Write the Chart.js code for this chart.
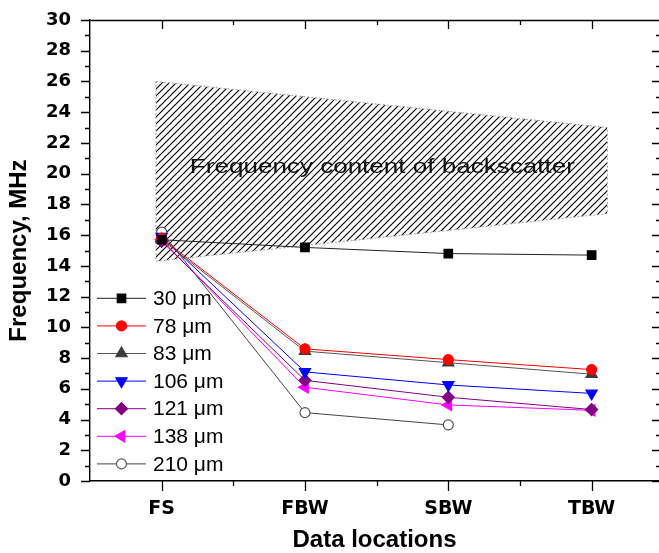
<!DOCTYPE html>
<html>
<head>
<meta charset="utf-8">
<script src="https://cdn.jsdelivr.net/npm/chart.js"></script>
<style>
  html, body { margin: 0; padding: 0; background: #fff; }
  #wrap { width: 659px; height: 553px; position: relative; }
</style>
</head>
<body>
<div id="wrap"><canvas id="chart"></canvas></div>
<script>
// data
var categories = ['FS', 'FBW', 'SBW', 'TBW'];
var sizes = ['30 \u03bcm', '78 \u03bcm', '83 \u03bcm', '106 \u03bcm', '121 \u03bcm', '138 \u03bcm', '210 \u03bcm'];
var f30  = [15.7, 15.2, 14.8, 14.7];
var f78  = [15.8, 8.6, 7.9, 7.25];
var f83  = [15.7, 8.45, 7.7, 6.95];
var f106 = [15.9, 7.1, 6.25, 5.7];
var f121 = [15.6, 6.55, 5.45, 4.65];
var f138 = [15.7, 6.1, 4.95, 4.6];
var f210 = [16.2, 4.45, 3.65, null];
// backscatter band (x in category units)
var bandX = [-0.04, 3.11];
var bandTop = [26.0, 23.0];
var bandBottom = [14.3, 17.4];
var bandLabel = 'Frequency content of backscatter';

function pts(vals) {
  var out = [];
  vals.forEach(function (v, i) { if (v !== null) out.push({ x: i, y: v }); });
  return out;
}
function edge(xs, ys) {
  return xs.map(function (x, i) { return { x: x, y: ys[i] }; });
}

// hatch pattern
function hatch() {
  var p = 7;
  var c = document.createElement('canvas');
  c.width = p; c.height = p;
  var g = c.getContext('2d');
  g.strokeStyle = '#000';
  g.lineWidth = 1.15;
  g.beginPath();
  g.moveTo(0, p); g.lineTo(p, 0);
  g.moveTo(-1, 1); g.lineTo(1, -1);
  g.moveTo(p - 1, p + 1); g.lineTo(p + 1, p - 1);
  g.stroke();
  return g.createPattern(c, 'repeat');
}

var styles = [
  { color: '#000000', line: '#222222', point: 'rect', r: 6, rot: 0, fill: '#000000' },
  { color: '#ff0000', line: '#ff0000', point: 'circle', r: 5, rot: 0, fill: '#ff0000' },
  { color: '#3c3c3c', line: '#555555', point: 'triangle', r: 6.5, rot: 0, fill: '#3c3c3c' },
  { color: '#0000ff', line: '#0000ff', point: 'triangle', r: 6.5, rot: 180, fill: '#0000ff' },
  { color: '#800080', line: '#800080', point: 'rectRot', r: 6, rot: 0, fill: '#800080' },
  { color: '#ff00ff', line: '#ff00ff', point: 'triangle', r: 6.5, rot: -90, fill: '#ff00ff' },
  { color: '#555555', line: '#444444', point: 'circle', r: 5, rot: 0, fill: '#ffffff' }
];
var series = [f30, f78, f83, f106, f121, f138, f210];

var datasets = series.map(function (s, i) {
  var st = styles[i];
  return {
    label: sizes[i],
    data: pts(s),
    borderColor: st.line,
    borderWidth: 1,
    backgroundColor: st.fill,
    pointStyle: st.point,
    pointRotation: st.rot,
    pointRadius: st.r,
    pointBorderColor: st.color,
    pointBorderWidth: 1.2,
    pointBackgroundColor: st.fill,
    fill: false,
    order: 1
  };
});

datasets.push({
  label: 'bandTop', data: edge(bandX, bandTop), borderWidth: 0, pointRadius: 0,
  backgroundColor: hatch(), fill: '+1', order: 5
});
datasets.push({
  label: 'bandBottom', data: edge(bandX, bandBottom), borderWidth: 0, pointRadius: 0,
  fill: false, order: 6
});
datasets.push({
  label: 'bandEdge',
  data: [
    { x: bandX[0], y: bandTop[0] }, { x: bandX[1], y: bandTop[1] },
    { x: bandX[1], y: bandBottom[1] }, { x: bandX[0], y: bandBottom[0] },
    { x: bandX[0], y: bandTop[0] }
  ],
  borderColor: '#a0a0a0', borderWidth: 1, borderDash: [2, 2], pointRadius: 0,
  fill: false, order: 4
});

var nSeries = series.length;

var frame = {
  id: 'frame',
  afterDatasetsDraw: function (chart) {
    var ctx = chart.ctx;
    var xs = chart.scales.x, ys = chart.scales.y;
    // band label over the hatch
    ctx.save();
    ctx.font = '21px "Liberation Sans", Arial, sans-serif';
    ctx.fillStyle = '#111';
    ctx.textAlign = 'center';
    ctx.textBaseline = 'middle';
    var cx = xs.getPixelForValue(1.54), cy = ys.getPixelForValue(20.45);
    ctx.translate(cx, cy);
    ctx.scale(1.24, 1);
    ctx.fillText(bandLabel, 0, 0);
    ctx.restore();
  },
  afterDraw: function (chart) {
    var ctx = chart.ctx, a = chart.chartArea;
    var xs = chart.scales.x, ys = chart.scales.y;
    ctx.save();
    ctx.strokeStyle = '#000';
    ctx.lineWidth = 1.3;
    ctx.beginPath();
    // top line
    ctx.moveTo(a.left, a.top + 0.5);
    ctx.lineTo(a.right, a.top + 0.5);
    // y ticks
    for (var v = 0; v <= 30; v++) {
      var py = Math.round(ys.getPixelForValue(v)) + 0.5;
      var len = v % 2 === 0 ? 9 : 5;
      ctx.moveTo(a.left - len, py); ctx.lineTo(a.left, py);
      var lr = v % 2 === 0 ? 7 : 3;
      ctx.moveTo(a.right - lr, py); ctx.lineTo(a.right, py);
    }
    // x ticks
    for (var k = 0; k < categories.length; k++) {
      var px = Math.round(xs.getPixelForValue(k)) + 0.5;
      ctx.moveTo(px, a.bottom); ctx.lineTo(px, a.bottom + 10);
      ctx.moveTo(px, a.top); ctx.lineTo(px, a.top + 9);
      var pm = Math.round(xs.getPixelForValue(k + 0.5)) + 0.5;
      if (pm < a.right - 2) {
        ctx.moveTo(pm, a.bottom); ctx.lineTo(pm, a.bottom + 5);
        ctx.moveTo(pm, a.top); ctx.lineTo(pm, a.top + 5);
      }
    }
    ctx.stroke();

    // legend inside plot
    var lx0 = a.left + 7, lx1 = a.left + 56, mx = a.left + 31.5, tx = a.left + 63;
    var y0 = 298.3, dy = 27.6;
    ctx.font = '21px "Liberation Sans", Arial, sans-serif';
    ctx.textAlign = 'left';
    ctx.textBaseline = 'middle';
    for (var i = 0; i < nSeries; i++) {
      var ds = chart.data.datasets[i];
      var yy = y0 + i * dy;
      ctx.strokeStyle = ds.borderColor;
      ctx.lineWidth = 1;
      ctx.beginPath();
      ctx.moveTo(lx0, yy); ctx.lineTo(lx1, yy);
      ctx.stroke();
      ctx.fillStyle = ds.pointBackgroundColor;
      ctx.strokeStyle = ds.pointBorderColor;
      ctx.lineWidth = 1.2;
      Chart.helpers.drawPoint(ctx, { pointStyle: ds.pointStyle, rotation: ds.pointRotation, radius: ds.pointRadius, borderWidth: 1.2 }, mx, yy);
      ctx.fillStyle = '#000';
      ctx.fillText(ds.label, tx, yy + 1);
    }
    ctx.restore();
  }
};

new Chart(document.getElementById('chart'), {
  type: 'line',
  data: { datasets: datasets },
  options: {
    responsive: true,
    maintainAspectRatio: false,
    animation: false,
    layout: { autoPadding: false, padding: { top: 20, right: 0, left: 0, bottom: 0 } },
    plugins: { legend: { display: false }, tooltip: { enabled: false } },
    scales: {
      x: {
        type: 'linear',
        min: -0.5,
        max: 3.47,
        afterFit: function (s) { s.height = 72; s.paddingLeft = 0; s.paddingRight = 0; },
        afterBuildTicks: function (s) {
          s.ticks = categories.map(function (c, i) { return { value: i }; });
        },
        ticks: {
          color: '#000',
          padding: 17,
          font: { family: '"DejaVu Sans", sans-serif', size: 19, weight: 'bold' },
          callback: function (v) { return categories[v]; }
        },
        grid: { display: false, drawTicks: false },
        border: { display: true, color: '#000', width: 1.4 },
        title: {
          display: true,
          text: 'Data locations',
          color: '#000',
          padding: { top: 0, bottom: -2 },
          font: { family: '"Liberation Sans", Arial, sans-serif', size: 24, weight: 'bold' }
        }
      },
      y: {
        min: 0,
        max: 30,
        afterFit: function (s) { s.width = 90; s.paddingTop = 0; s.paddingBottom = 0; },
        ticks: {
          stepSize: 2,
          color: '#000',
          padding: 19,
          font: { family: '"DejaVu Sans", sans-serif', size: 18, weight: 'bold' }
        },
        grid: { display: false, drawTicks: false },
        border: { display: true, color: '#000', width: 1.4 },
        title: {
          display: true,
          text: 'Frequency, MHz',
          color: '#000',
          padding: { top: 5, bottom: 0 },
          font: { family: '"Liberation Sans", Arial, sans-serif', size: 24, weight: 'bold' }
        }
      }
    }
  },
  plugins: [frame]
});
</script>
</body>
</html>
